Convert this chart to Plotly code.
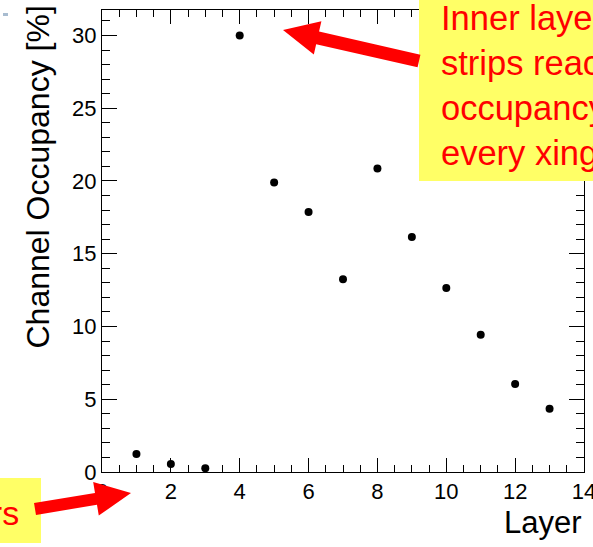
import math
import plotly.graph_objects as go

# Channel occupancy per layer
layers = [1, 2, 3, 4, 5, 6, 7, 8, 9, 10, 11, 12, 13]
occupancy = [1.24, 0.55, 0.25, 30.0, 19.9, 17.87, 13.25, 20.85, 16.15, 12.65, 9.44, 6.05, 4.35]

x_ticks = [0, 2, 4, 6, 8, 10, 12, 14]
y_ticks = [0, 5, 10, 15, 20, 25, 30]

W, H = 593, 547
ML, MR, MT, MB = 102, 9, 10, 75
PW, PH = W - ML - MR, H - MT - MB

FONT = "Liberation Sans, Arial, Helvetica, sans-serif"
RED = "#FF0000"
YELLOW = "#FFFF66"


def to_paper(x, y):
    """Convert a canvas pixel position to paper coordinates."""
    return (x - ML) / PW, (H - MB - y) / PH


def arrow_path(tail, tip, shaft_w, head_len, head_half):
    """Filled block-arrow outline as an SVG path in paper units."""
    (x0, y0), (x1, y1) = tail, tip
    L = math.hypot(x1 - x0, y1 - y0)
    ux, uy = (x1 - x0) / L, (y1 - y0) / L
    nx, ny = -uy, ux
    bx, by = x1 - ux * head_len, y1 - uy * head_len
    s = shaft_w / 2
    pts = [
        (x0 + nx * s, y0 + ny * s),
        (bx + nx * s, by + ny * s),
        (bx + nx * head_half, by + ny * head_half),
        (x1, y1),
        (bx - nx * head_half, by - ny * head_half),
        (bx - nx * s, by - ny * s),
        (x0 - nx * s, y0 - ny * s),
    ]
    pp = [to_paper(px, py) for px, py in pts]
    return "M " + " L ".join(f"{a:.5f},{b:.5f}" for a, b in pp) + " Z"


def rect(x0, y0, x1, y1, color):
    a0, b0 = to_paper(x0, y1)
    a1, b1 = to_paper(x1, y0)
    return dict(type="rect", xref="paper", yref="paper", x0=a0, y0=b0, x1=a1, y1=b1,
                fillcolor=color, line=dict(width=0), layer="above")


fig = go.Figure()
fig.add_trace(go.Scatter(
    x=layers, y=occupancy, mode="markers",
    marker=dict(color="black", size=8, symbol="circle"),
    showlegend=False, cliponaxis=False,
))

axis_common = dict(
    showgrid=False, zeroline=False, showline=True, linecolor="black", linewidth=1,
    mirror="ticks", ticks="inside", tickcolor="black", tickwidth=1,
    tickfont=dict(family=FONT, size=22, color="black"),
    ticklabeloverflow="allow", automargin=False,
)

fig.update_xaxes(range=[0, 14], tickvals=x_ticks, ticklen=14,
                 minor=dict(dtick=0.5, ticklen=7, ticks="inside", tickcolor="black"),
                 **axis_common)
fig.update_yaxes(range=[0, 31.75], tickvals=y_ticks, ticklen=15,
                 minor=dict(dtick=1, ticklen=8, ticks="inside", tickcolor="black"),
                 **axis_common)

shapes = [
    # annotation boxes
    rect(419, 0, 640, 181, YELLOW),
    rect(-10, 478, 41, 543, YELLOW),
    # pointer arrows
    dict(type="path", xref="paper", yref="paper", layer="above",
         path=arrow_path((419, 61), (283, 30), 13, 35.5, 17),
         fillcolor=RED, line=dict(width=0)),
    dict(type="path", xref="paper", yref="paper", layer="above",
         path=arrow_path((35, 509), (131, 493), 12, 35.5, 17),
         fillcolor=RED, line=dict(width=0)),
    # small mark in the top-left corner
    rect(3, 13, 8, 16, "#A8BCD0"),
]

ax_t, ay_t = to_paper(439, -3)
ax_b, ay_b = to_paper(21, 513)
lx, ly = to_paper(584, 542)
tx, ty = to_paper(37, 4)

annotations = [
    dict(xref="paper", yref="paper", x=ax_t, y=ay_t, xanchor="left", yanchor="top",
         text="Inner layer<br>strips reach<br>occupancy<br>every xing", showarrow=False,
         align="left", font=dict(family=FONT, size=34.5, color=RED)),
    dict(xref="paper", yref="paper", x=ax_b, y=ay_b, xanchor="right", yanchor="middle",
         text="Outer layers", showarrow=False,
         font=dict(family=FONT, size=34, color=RED)),
    dict(xref="paper", yref="paper", x=lx, y=ly, xanchor="right", yanchor="bottom",
         text="Layer", showarrow=False, font=dict(family=FONT, size=31, color="black")),
    dict(xref="paper", yref="paper", x=tx, y=ty, xanchor="center", yanchor="top",
         text="Channel Occupancy [%]", textangle=-90, showarrow=False,
         font=dict(family=FONT, size=32, color="black")),
]

fig.update_layout(
    width=W, height=H,
    margin=dict(l=ML, r=MR, t=MT, b=MB, pad=0, autoexpand=False),
    paper_bgcolor="white", plot_bgcolor="white",
    shapes=shapes, annotations=annotations,
    showlegend=False,
)

fig.write_html("out.html")
